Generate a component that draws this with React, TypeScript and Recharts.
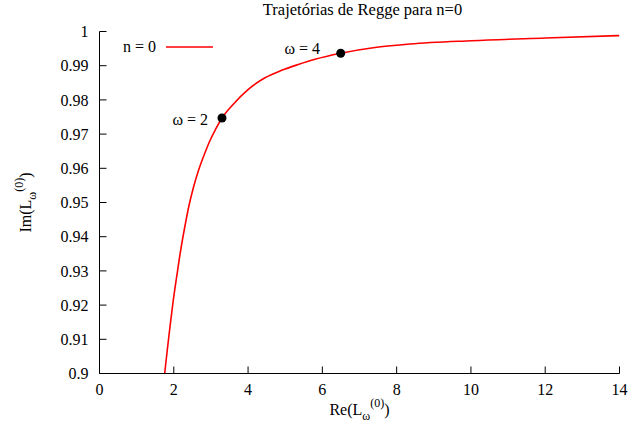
import { ComposedChart, Line, XAxis, YAxis, Legend, ReferenceDot } from 'recharts'

// curve (Re(L), Im(L))
const reL = [1.755, 1.825, 1.898, 1.987, 2.078, 2.186, 2.291, 2.404, 2.525, 2.66, 2.827, 2.975, 3.123, 3.298, 3.602, 4.006, 4.456, 4.905, 5.352, 5.802, 6.494, 7.463, 8.36, 10.02, 12.01, 14]
const imL = [0.9, 0.90687, 0.91368, 0.92149, 0.9283, 0.93611, 0.94254, 0.94883, 0.95424, 0.95921, 0.96418, 0.96813, 0.97135, 0.97471, 0.97874, 0.9831, 0.98646, 0.98865, 0.99035, 0.99187, 0.99363, 0.99538, 0.99635, 0.99731, 0.99808, 0.9988]

// marked points and their labels (gnuplot "set label at ...")
const omegaNames = ['ω = 2', 'ω = 4']
const omegaRe = [3.298, 6.494]
const omegaIm = [0.97471, 0.99363]
const omegaLabelRe = [2.92, 5.94]
const omegaLabelIm = [0.9743, 0.99509]

const xTicks = [0, 2, 4, 6, 8, 10, 12, 14]
const yTicks = [0.9, 0.91, 0.92, 0.93, 0.94, 0.95, 0.96, 0.97, 0.98, 0.99, 1]

const curve = reL.map((re, i) => ({ re, im: imL[i] }))
const points = omegaRe.map((re, i) => ({ re, im: omegaIm[i] }))

const FONT = '"Liberation Serif", "Times New Roman", Times, serif'
const tickStyle = { fill: '#000', fontSize: 16, fontFamily: FONT }
const fmtY = (v: number) => String(Number(v.toFixed(2)))
const blank = () => ''

function XLabel({ viewBox }: any) {
  const cx = viewBox.x + viewBox.width / 2
  const y = viewBox.y + 41
  return (
    <text x={cx} y={y} textAnchor="middle" fontFamily={FONT} fontSize={16} fill="#000">
      Re(L
      <tspan dy={5} fontSize={12}>ω</tspan>
      <tspan dy={-13} fontSize={12}>(0)</tspan>
      <tspan dy={8}>)</tspan>
    </text>
  )
}

function YLabel({ viewBox }: any) {
  const x = viewBox.x + 30
  const cy = viewBox.y + viewBox.height / 2
  return (
    <text
      x={x}
      y={cy}
      transform={`rotate(-90 ${x} ${cy})`}
      textAnchor="middle"
      fontFamily={FONT}
      fontSize={16}
      fill="#000"
    >
      Im(L
      <tspan dy={5} fontSize={12}>ω</tspan>
      <tspan dy={-13} fontSize={12}>(0)</tspan>
      <tspan dy={8}>)</tspan>
    </text>
  )
}

function KeyBox() {
  return (
    <div style={{ display: 'flex', alignItems: 'center', fontFamily: FONT, fontSize: 16, lineHeight: '18px' }}>
      <span>n = 0</span>
      <svg width={47} height={4} style={{ marginLeft: 10 }}>
        <line x1={0} y1={2} x2={47} y2={2} stroke="#ff0000" strokeWidth={1.6} />
      </svg>
    </div>
  )
}

export default function App() {
  return (
    <div style={{ position: 'absolute', left: 0, top: 0, width: 629, height: 430, background: '#fff' }}>
      <div
        style={{
          position: 'absolute',
          left: 100,
          width: 525,
          top: 1,
          textAlign: 'center',
          fontFamily: FONT,
          fontSize: 16.5,
          lineHeight: '18px',
        }}
      >
        Trajetórias de Regge para n=0
      </div>
      <ComposedChart width={629} height={430} margin={{ top: 31.5, right: 9.5, bottom: 16.5, left: 0.5 }}>
        <XAxis
          dataKey="re"
          type="number"
          domain={[0, 14]}
          ticks={xTicks}
          interval={0}
          allowDataOverflow
          height={40}
          stroke="#000"
          tickSize={-7}
          tickMargin={17}
          tick={tickStyle}
          label={<XLabel />}
        />
        <XAxis
          xAxisId="top"
          orientation="top"
          dataKey="re"
          type="number"
          domain={[0, 14]}
          ticks={xTicks}
          interval={0}
          height={0}
          stroke="#000"
          tickSize={-7}
          tickFormatter={blank}
        />
        <YAxis
          dataKey="im"
          type="number"
          domain={[0.9, 1]}
          ticks={yTicks}
          interval={0}
          allowDataOverflow
          width={99}
          stroke="#000"
          tickSize={-7}
          tickMargin={18}
          tick={tickStyle}
          tickFormatter={fmtY}
          label={<YLabel />}
        />
        <YAxis
          yAxisId="right"
          orientation="right"
          dataKey="im"
          type="number"
          domain={[0.9, 1]}
          ticks={yTicks}
          interval={0}
          width={0}
          stroke="#000"
          tickSize={-7}
          tickFormatter={blank}
        />
        <Legend
          layout="vertical"
          align="center"
          verticalAlign="middle"
          wrapperStyle={{ left: 123, top: 38, width: 'auto' }}
          content={<KeyBox />}
        />
        <Line
          data={curve}
          dataKey="im"
          type="monotone"
          stroke="#ff0000"
          strokeWidth={1.6}
          dot={false}
          isAnimationActive={false}
        />
        <Line
          data={points}
          dataKey="im"
          stroke="none"
          dot={{ r: 4.5, fill: '#000', stroke: '#000', strokeWidth: 0 }}
          isAnimationActive={false}
          legendType="none"
        />
        {omegaNames.map((name, i) => (
          <ReferenceDot
            key={name}
            x={omegaLabelRe[i]}
            y={omegaLabelIm[i]}
            r={0}
            fill="none"
            stroke="none"
            label={{ value: name, position: 'left', offset: 0, fill: '#000', fontSize: 16, fontFamily: FONT }}
          />
        ))}
      </ComposedChart>
    </div>
  )
}
